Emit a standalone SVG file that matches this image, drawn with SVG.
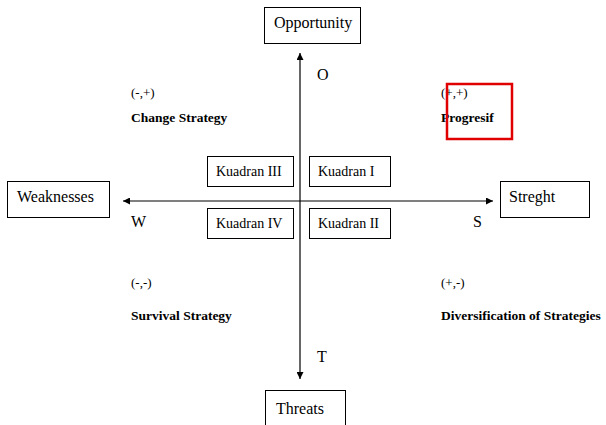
<svg xmlns="http://www.w3.org/2000/svg" width="606" height="425" viewBox="0 0 606 425">
  <defs>
    <marker id="arrow" viewBox="0 0 10 10" refX="10" refY="5" markerWidth="7" markerHeight="7" markerUnits="userSpaceOnUse" orient="auto">
      <path d="M0,0 L10,5 L0,10 z" fill="#000"/>
    </marker>
    <style>
      .box { fill: #fff; stroke: #000; stroke-width: 1; }
      .axis { stroke: #000; stroke-width: 1.2; fill: none; marker-end: url(#arrow); }
      .lbl { font-family: "Liberation Serif", "Times New Roman", serif; font-size: 16px; fill: #000; }
      .q { font-family: "Liberation Serif", "Times New Roman", serif; font-size: 14px; fill: #000; }
      .sm { font-family: "Liberation Serif", "Times New Roman", serif; font-size: 13px; fill: #000; }
      .b { font-family: "Liberation Serif", "Times New Roman", serif; font-size: 13.5px; font-weight: bold; fill: #000; }
      .hl { fill: none; stroke: #e00000; stroke-width: 2.5; }
    </style>
  </defs>
  <rect width="606" height="425" fill="#fff"/>

  <!-- axes -->
  <g id="connectors">
    <line class="axis" x1="300" y1="201" x2="300" y2="53"/>
    <line class="axis" x1="300" y1="201" x2="300" y2="379"/>
    <line class="axis" x1="300" y1="201" x2="123" y2="201"/>
    <line class="axis" x1="300" y1="201" x2="493" y2="201"/>
  </g>

  <!-- end labels -->
  <g id="opportunity">
    <rect class="box" x="264.5" y="7.5" width="96" height="36"/>
    <text class="lbl" x="274" y="28">Opportunity</text>
  </g>
  <g id="threats">
    <rect class="box" x="265.5" y="390.5" width="80" height="40"/>
    <text class="lbl" x="276" y="414">Threats</text>
  </g>
  <g id="weaknesses">
    <rect class="box" x="7.5" y="181.5" width="102" height="36"/>
    <text class="lbl" x="17" y="202">Weaknesses</text>
  </g>
  <g id="strength">
    <rect class="box" x="500.5" y="181.5" width="89" height="36"/>
    <text class="lbl" x="509" y="202">Streght</text>
  </g>

  <!-- axis letters -->
  <g id="axis-letters">
    <text class="lbl" x="317" y="80" font-size="15">O</text>
    <text class="lbl" x="317" y="362" font-size="15">T</text>
    <text class="lbl" x="131" y="227" font-size="15">W</text>
    <text class="lbl" x="473" y="227" font-size="15">S</text>
  </g>

  <!-- quadrant boxes -->
  <g id="kuadran-3">
    <rect class="box" x="207.5" y="156.5" width="86" height="30"/>
    <text class="q" x="216" y="176">Kuadran III</text>
  </g>
  <g id="kuadran-1">
    <rect class="box" x="309.5" y="156.5" width="81" height="30"/>
    <text class="q" x="318" y="176">Kuadran I</text>
  </g>
  <g id="kuadran-4">
    <rect class="box" x="207.5" y="208.5" width="86" height="30"/>
    <text class="q" x="216" y="228">Kuadran IV</text>
  </g>
  <g id="kuadran-2">
    <rect class="box" x="309.5" y="208.5" width="81" height="30"/>
    <text class="q" x="318" y="228">Kuadran II</text>
  </g>

  <!-- strategy labels -->
  <g id="change-strategy">
    <text class="sm" x="131" y="97">(-,+)</text>
    <text class="b" x="131" y="122">Change Strategy</text>
  </g>
  <g id="progresif">
    <text class="sm" x="441" y="97">(+,+)</text>
    <text class="b" x="441" y="122">Progresif</text>
    <rect class="hl" x="447" y="84" width="65" height="55"/>
  </g>
  <g id="survival-strategy">
    <text class="sm" x="131" y="287">(-,-)</text>
    <text class="b" x="131" y="320">Survival Strategy</text>
  </g>
  <g id="diversification">
    <text class="sm" x="441" y="287">(+,-)</text>
    <text class="b" x="441" y="320">Diversification of Strategies</text>
  </g>
</svg>
